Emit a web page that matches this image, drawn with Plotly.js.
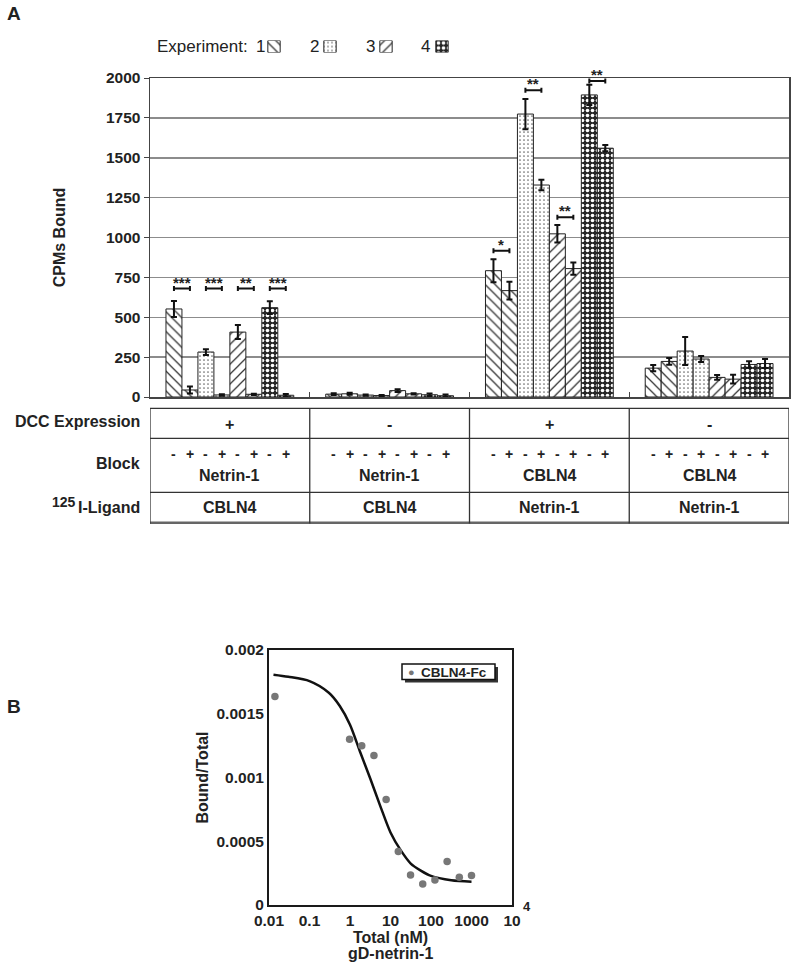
<!DOCTYPE html>
<html><head><meta charset="utf-8">
<script src="https://cdn.plot.ly/plotly-3.0.1.min.js"></script>
<style>html,body{margin:0;padding:0;background:#fff}</style>
</head><body><div id="chart" style="width:794px;height:966px"></div>
<script>
// ---------- Panel A data ----------
const experiments = ['1', '2', '3', '4'];
const blockSigns = ['-', '+'];
const dccExpression = ['+', '-', '+', '-'];
const blockAgent = ['Netrin-1', 'Netrin-1', 'CBLN4', 'CBLN4'];
const ligand125I = ['CBLN4', 'CBLN4', 'Netrin-1', 'Netrin-1'];
// order within each experiment: [g1 -, g1 +, g2 -, g2 +, g3 -, g3 +, g4 -, g4 +]
const exp1Mean = [552, 44, 18, 20, 792, 667, 181, 223];
const exp1Err  = [50, 22, 5, 6, 72, 55, 19, 21];
const exp2Mean = [282, 13, 12, 9, 1774, 1329, 288, 238];
const exp2Err  = [18, 5, 4, 4, 95, 33, 88, 19];
const exp3Mean = [407, 17, 40, 20, 1023, 805, 123, 112];
const exp3Err  = [44, 4, 8, 4, 55, 38, 15, 27];
const exp4Mean = [560, 11, 14, 8, 1894, 1560, 204, 210];
const exp4Err  = [40, 8, 8, 8, 63, 20, 20, 28];
// significance markers (group index, experiment index, label, bracket level in CPM)
const sigGroup = [0, 0, 0, 0, 2, 2, 2, 2];
const sigExperiment = [0, 1, 2, 3, 0, 1, 2, 3];
const sigLabel = ['***', '***', '**', '***', '*', '**', '**', '**'];
const sigLevel = [680, 680, 680, 680, 917, 1923, 1127, 1981];

// ---------- Panel B data ----------
const competitorNM = [0.014, 0.977, 1.95, 3.9, 7.8, 15.6, 31.25, 62.5, 125, 250, 500, 1000];
const boundOverTotal = [0.001635, 0.0013, 0.00125, 0.001173, 0.000827, 0.00042, 0.000236, 0.000165, 0.000197, 0.000341, 0.000217, 0.000231];
const fitNM = [0.0129, 0.03, 0.1, 0.3, 0.56, 1, 1.78, 3.16, 5.6, 10, 17.8, 31.6, 56, 100, 316, 1000];
const fitBound = [0.001806, 0.00179, 0.001756, 0.001665, 0.001561, 0.001414, 0.0012, 0.000992, 0.000776, 0.000569, 0.00043, 0.000325, 0.00027, 0.000228, 0.000194, 0.000183];
const xTickVals = [0.01, 0.1, 1, 10, 100, 1000, 10000];
const xTickText = ['0.01', '0.1', '1', '10', '100', '1000', '10'];
const yTickVals = [0, 0.0005, 0.001, 0.0015, 0.002];
const yTickText = ['0', '0.0005', '0.001', '0.0015', '0.002'];

// ---------- helpers ----------
const W = 794, H = 966;
const PX = px => px / W;
const PY = py => 1 - py / H;
const FONT = 'Liberation Sans, Arial, Helvetica, sans-serif';
const means = [exp1Mean, exp2Mean, exp3Mean, exp4Mean];
const errs = [exp1Err, exp2Err, exp3Err, exp4Err];
const BARW = 0.1;
const barX = (g, e, b) => g + (2 * e + b - 3.5) * BARW;

const patterns = [
  {shape: '\\', fgcolor: '#333', bgcolor: '#fff', size: 7, solidity: 0.18, fillmode: 'replace'},
  {shape: '.', fgcolor: '#6a6a6a', bgcolor: '#fff', size: 4, solidity: 0.14, fillmode: 'replace'},
  {shape: '/', fgcolor: '#333', bgcolor: '#fff', size: 7, solidity: 0.18, fillmode: 'replace'},
  {shape: '.', fgcolor: '#fff', bgcolor: '#262626', size: 5, solidity: 0.42, fillmode: 'replace'}
];
const pat = key => patterns.map(p => p[key]);

const traces = [];
experiments.forEach((name, e) => {
  const xs = [], ys = [], es = [];
  for (let g = 0; g < 4; g++) {
    for (let b = 0; b < 2; b++) {
      xs.push(barX(g, e, b));
      ys.push(means[e][g * 2 + b]);
      es.push(errs[e][g * 2 + b]);
    }
  }
  traces.push({
    type: 'bar', x: xs, y: ys, width: BARW, name: 'Experiment ' + name, showlegend: false,
    xaxis: 'x', yaxis: 'y',
    marker: {color: '#fff', pattern: patterns[e], line: {color: '#222', width: 1}},
    error_y: {type: 'data', array: es, visible: true, color: '#111', thickness: 2, width: 3},
    hovertemplate: 'Experiment ' + name + ': %{y}<extra></extra>'
  });
});

// legend key swatches (one small box per experiment) on their own strip axis
traces.push({
  type: 'bar', x: experiments, y: experiments.map(() => 1), width: 0.22, xaxis: 'x3', yaxis: 'y3',
  name: 'legend key', showlegend: false, hoverinfo: 'skip',
  marker: {color: '#fff', line: {color: '#222', width: 1},
    pattern: {shape: pat('shape'), fgcolor: pat('fgcolor'), bgcolor: pat('bgcolor'), size: pat('size'), solidity: pat('solidity'), fillmode: 'replace'}}
});

traces.push({
  type: 'scatter', mode: 'lines', x: fitNM, y: fitBound, xaxis: 'x2', yaxis: 'y2',
  line: {color: '#111', width: 2.5, shape: 'spline', smoothing: 0.8},
  showlegend: false, name: 'fit', hoverinfo: 'skip'
});
traces.push({
  type: 'scatter', mode: 'markers', x: competitorNM, y: boundOverTotal, xaxis: 'x2', yaxis: 'y2',
  marker: {color: '#777', size: 7.5}, showlegend: false, name: 'CBLN4-Fc'
});

// ---------- annotations & shapes ----------
const ann = [];
const shapes = [];
const bold = (size) => ({family: FONT, size: size, color: '#222', weight: 'bold'});
const txt = (px, py, text, font, xa, extra) => Object.assign({xref: 'paper', yref: 'paper', x: PX(px), y: PY(py), xanchor: xa || 'center', yanchor: 'middle', text: text, showarrow: false, font: font}, extra || {});

ann.push(txt(5, 13, 'A', bold(19), 'left'));
ann.push(txt(5, 706, 'B', bold(19), 'left'));

// legend labels (numbers precede swatches)
ann.push(txt(155, 46.5, 'Experiment:', {family: FONT, size: 17, color: '#222'}, 'left'));
const legendNumX = [260, 314, 370, 425];
experiments.forEach((name, e) => ann.push(txt(legendNumX[e], 46.5, name, {family: FONT, size: 17, color: '#222'})));

// significance brackets and stars
sigLabel.forEach((lab, i) => {
  const g = sigGroup[i], e = sigExperiment[i], lvl = sigLevel[i];
  const x1 = barX(g, e, 0), x2 = barX(g, e, 1), d = 16;
  shapes.push({type: 'path', xref: 'x', yref: 'y', path: `M${x1},${lvl + d}V${lvl - d}M${x1},${lvl}H${x2}M${x2},${lvl + d}V${lvl - d}`, line: {color: '#111', width: 2}});
  ann.push({xref: 'x', yref: 'y', x: (x1 + x2) / 2, y: lvl, yanchor: 'bottom', yshift: -4, text: lab, showarrow: false, font: bold(15)});
});

// table under panel A
const rowLines = [408.3, 438.3, 492.3];
rowLines.forEach(py => shapes.push({type: 'line', xref: 'x', yref: 'paper', x0: -0.5, x1: 3.5, y0: PY(py), y1: PY(py), line: {color: '#333', width: 1.3}}));
shapes.push({type: 'line', xref: 'x', yref: 'paper', x0: -0.5, x1: 3.5, y0: PY(522.7), y1: PY(522.7), line: {color: '#666', width: 2.5}});
[-0.5, 0.5, 1.5, 2.5, 3.5].forEach(xv => shapes.push({type: 'line', xref: 'x', yref: 'paper', x0: xv, x1: xv, y0: PY(408.3), y1: PY(523.5), line: {color: '#333', width: 1.3}}));

ann.push(txt(142, 421.7, 'DCC Expression', bold(16), 'right'));
ann.push(txt(142, 463.3, 'Block', bold(16), 'right'));
ann.push(txt(142, 507.3, 'I-Ligand', bold(16), 'right'));
ann.push(txt(77.5, 502, '125', bold(14), 'right'));

for (let g = 0; g < 4; g++) {
  ann.push({xref: 'x', yref: 'paper', x: g, y: PY(425), yanchor: 'middle', text: dccExpression[g], showarrow: false, font: bold(16)});
  ann.push({xref: 'x', yref: 'paper', x: g, y: PY(475.5), yanchor: 'middle', text: blockAgent[g], showarrow: false, font: bold(16)});
  ann.push({xref: 'x', yref: 'paper', x: g, y: PY(508), yanchor: 'middle', text: ligand125I[g], showarrow: false, font: bold(16)});
  for (let e = 0; e < 4; e++) {
    for (let b = 0; b < 2; b++) {
      ann.push({xref: 'x', yref: 'paper', x: barX(g, e, b), y: PY(453.5), yanchor: 'middle', text: blockSigns[b], showarrow: false, font: bold(14)});
    }
  }
}

// panel B: exponent of the 10^4 tick, second line of the x title
ann.push(txt(520.5, 906, '4', bold(13), 'left'));
ann.push(txt(390.5, 953, 'gD-netrin-1', bold(16)));

// panel B legend box (with drop shadow)
shapes.push({type: 'rect', xref: 'paper', yref: 'paper', x0: PX(405), x1: PX(498), y0: PY(682.5), y1: PY(667), fillcolor: '#333', line: {width: 0}, layer: 'above'});
shapes.push({type: 'rect', xref: 'paper', yref: 'paper', x0: PX(402), x1: PX(495), y0: PY(679.5), y1: PY(664), fillcolor: '#fff', line: {color: '#111', width: 1.5}, layer: 'above'});
ann.push(txt(411.5, 671.5, '●', {family: FONT, size: 11, color: '#777'}));
ann.push(txt(419, 672, 'CBLN4-Fc', bold(13.5), 'left'));

const layout = {
  width: W, height: H,
  margin: {l: 0, r: 0, t: 0, b: 0},
  paper_bgcolor: '#fff', plot_bgcolor: '#fff',
  font: {family: FONT, size: 15, color: '#222'},
  barmode: 'overlay',
  showlegend: false,
  xaxis: {domain: [PX(150), PX(789)], anchor: 'y', range: [-0.5, 3.5], showline: true, mirror: true, linecolor: '#444', linewidth: 1.5,
    tickvals: [0.5, 1.5, 2.5], ticks: 'inside', ticklen: 5, tickcolor: '#444', tickwidth: 1.3, showticklabels: false, showgrid: false, zeroline: false},
  yaxis: {domain: [PY(397), PY(78)], anchor: 'x', range: [0, 2000], tick0: 0, dtick: 250, tickformat: 'd', ticks: 'outside', ticklen: 5, tickcolor: '#444',
    showgrid: true, gridcolor: '#8c8c8c', gridwidth: 1.5, showline: true, mirror: true, linecolor: '#444', linewidth: 1.5, zeroline: false,
    tickfont: bold(15.5), title: {text: 'CPMs Bound', font: bold(16), standoff: 36}},
  xaxis2: {domain: [PX(269), PX(512)], anchor: 'y2', type: 'log', range: [-2, 4],
    tickvals: xTickVals, ticktext: xTickText,
    ticks: '', showline: true, mirror: true, linecolor: '#1a1a1a', linewidth: 2, showgrid: false, zeroline: false,
    tickfont: bold(15.5), title: {text: 'Total (nM)', font: bold(16), standoff: 0}},
  yaxis2: {domain: [PY(905), PY(650)], anchor: 'x2', range: [0, 0.002],
    tickvals: yTickVals, ticktext: yTickText,
    ticks: '', showline: true, mirror: true, linecolor: '#1a1a1a', linewidth: 2, showgrid: false, zeroline: false,
    tickfont: bold(15.5), title: {text: 'Bound/Total', font: bold(16), standoff: 4}},
  xaxis3: {domain: [PX(246), PX(470)], anchor: 'y3', type: 'category', range: [-0.5, 3.5], visible: false, fixedrange: true},
  yaxis3: {domain: [PY(52.5), PY(40.5)], anchor: 'x3', range: [0, 1], visible: false, fixedrange: true},
  annotations: ann,
  shapes: shapes
};

Plotly.newPlot('chart', traces, layout, {staticPlot: true, displayModeBar: false});
</script>
</body></html>
